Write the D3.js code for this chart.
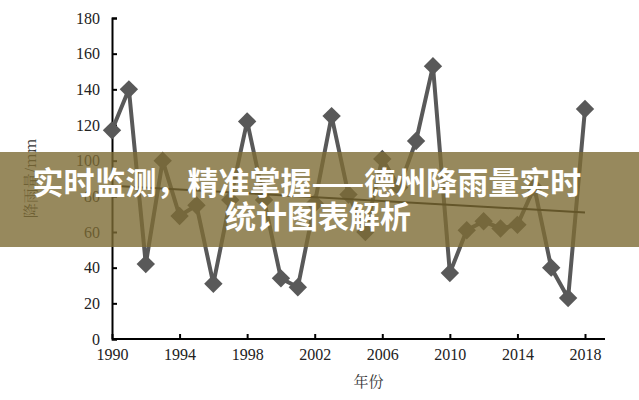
<!DOCTYPE html>
<html><head><meta charset="utf-8">
<script src="https://cdn.jsdelivr.net/npm/d3@7"></script>
<style>body{margin:0;background:#fff}svg{display:block}</style>
</head><body>
<div id="chart"></div>
<script>
const years = d3.range(1990, 2019);
const rainfall = [117,140,42,100,69,75,31,78,122,78,34,29,76,125,81,60,101,85,111,153,37,61,66,62,64,85,40,23,129];
const trend = [86, 71];
const yTicks = [0,20,40,60,80,100,120,140,160,180];
const xTicks = [1990,1994,1998,2002,2006,2010,2014,2018];
const titleLines = ["实时监测，精准掌握——德州降雨量实时", "统计图表解析"];

const W = 639, H = 400;
const margin = { top: 18, right: 54, bottom: 61, left: 112 };
const svg = d3.select("#chart").append("svg").attr("width", W).attr("height", H);
const g = svg.append("g").attr("transform", `translate(${margin.left},${margin.top})`);
const w = W - margin.left - margin.right, h = H - margin.top - margin.bottom;

const x = d3.scaleLinear().domain([1990, 2018]).range([0, 473]);
const y = d3.scaleLinear().domain([0, 180]).range([h, 0]);

const serif = "'Liberation Serif','DejaVu Serif',serif";
const yAxis = g.append("g").call(d3.axisLeft(y).tickValues(yTicks).tickSize(-5).tickPadding(12));
const xAxis = g.append("g").attr("transform", `translate(0,${h})`)
  .call(d3.axisBottom(x).tickValues(xTicks).tickFormat(d3.format("d")).tickSize(-5).tickPadding(10));
[yAxis, xAxis].forEach(a => {
  a.selectAll("path,line").attr("stroke", "#000").attr("stroke-width", 2);
  a.selectAll("text").attr("font-family", serif).attr("font-size", 16).attr("fill", "#222");
});
xAxis.select(".domain").attr("d", `M0,0H${w + 20}`);

g.append("path").datum(years.map((d, i) => [d, rainfall[i]]))
  .attr("fill", "none").attr("stroke", "#595959").attr("stroke-width", 4)
  .attr("d", d3.line().x(d => x(d[0])).y(d => y(d[1])));

g.selectAll(".pt").data(years).enter().append("rect")
  .attr("width", 13).attr("height", 13).attr("fill", "#595959")
  .attr("transform", (d, i) => `translate(${x(d)},${y(rainfall[i])}) rotate(45) translate(-6.5,-6.5)`);

g.append("line").attr("x1", x(1990)).attr("x2", x(2018))
  .attr("y1", y(trend[0])).attr("y2", y(trend[1]))
  .attr("stroke", "#000").attr("stroke-width", 2);

g.append("text").attr("transform", `translate(-76,${h / 2}) rotate(-90)`)
  .attr("text-anchor", "middle").attr("font-family", "'Noto Serif CJK SC','Noto Sans CJK SC',serif").attr("font-size", 15).attr("fill", "#333")
  .text("降雨量/mm");
g.append("text").attr("x", w / 2 + 20).attr("y", h + 48)
  .attr("text-anchor", "middle").attr("font-family", "'Noto Serif CJK SC','Noto Sans CJK SC',serif").attr("font-size", 15).attr("fill", "#333")
  .text("年份");

svg.append("rect").attr("x", 0).attr("y", 152).attr("width", W).attr("height", 95)
  .attr("fill", "rgb(125,108,52)").attr("opacity", 0.8);
svg.selectAll(".title").data(titleLines).enter().append("text")
  .attr("x", (d, i) => i === 0 ? 307 : 318).attr("y", (d, i) => 194 + i * 34)
  .attr("text-anchor", "middle").attr("font-family", "'Noto Sans CJK SC',sans-serif")
  .attr("font-weight", "bold").attr("font-size", 31).attr("fill", "#fff")
  .text(d => d);
</script>
</body></html>
